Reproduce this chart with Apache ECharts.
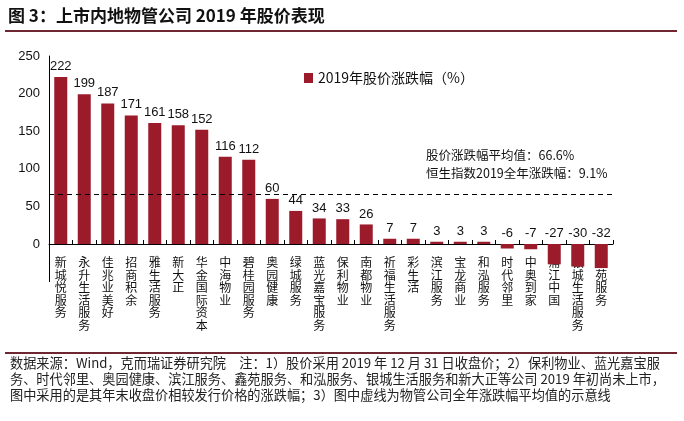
<!DOCTYPE html>
<html><head><meta charset="utf-8">
<script src="https://cdn.jsdelivr.net/npm/echarts@6/dist/echarts.min.js"></script>
<style>html,body{margin:0;padding:0;background:#fff}#c{width:684px;height:421px}</style>
</head><body><div id="c"></div>
<script>
const categories = ['新城悦服务','永升生活服务','佳兆业美好','招商积余','雅生活服务','新大正','华金国际资本','中海物业','碧桂园服务','奥园健康','绿城服务','蓝光嘉宝服务','保利物业','南都物业','祈福生活服务','彩生活','滨江服务','宝龙商业','和泓服务','时代邻里','中奥到家','浦江中国','银城生活服务','鑫苑服务'];
const changes = [222,199,187,171,161,158,152,116,112,60,44,34,33,26,7,7,3,3,3,-6,-7,-27,-30,-32];
const averageChange = 66.6;
const yTicks = [-50,0,50,100,150,200,250];
const seriesName = '2019年股价涨跌幅（%）';

const FONT = '"Noto Sans CJK SC", "Liberation Sans", sans-serif';
const barColor = '#9B1B2B';
const chart = echarts.init(document.getElementById('c'), null, {renderer:'canvas'});
chart.setOption({
  backgroundColor:'#fff',
  animation:false,
  textStyle:{fontFamily:FONT},
  grid:{left:49,right:71,top:56,height:225.6},
  legend:{show:true,left:299,top:66,itemWidth:9,itemHeight:10,itemGap:3,
    data:[{name:seriesName,icon:'rect'}],
    textStyle:{fontSize:14,color:'#111',fontFamily:FONT}},
  xAxis:{type:'category',data:categories,
    axisLine:{onZero:true,lineStyle:{color:'#000',width:1}},
    axisTick:{show:true,inside:true,length:4,lineStyle:{color:'#000'}},
    axisLabel:{interval:0,margin:-25,color:'#111',fontSize:12,lineHeight:12.5,verticalAlign:'top',
      formatter:v=>v.split('').join('\n')}},
  yAxis:{type:'value',min:yTicks[0],max:yTicks[yTicks.length-1],interval:50,
    splitLine:{show:false},
    axisLine:{show:true,lineStyle:{color:'#000'}},
    axisTick:{show:false},
    axisLabel:{color:'#111',fontSize:13,margin:9,fontFamily:'"Liberation Sans", sans-serif',
      formatter:v=>v<0?'':String(v)}},
  series:[
    {name:seriesName,type:'bar',data:changes,barWidth:13,
     itemStyle:{color:barColor},
     label:{show:true,position:'top',distance:4,color:'#111',fontSize:13,fontFamily:'"Liberation Sans", sans-serif',
       formatter:p=>p.value>=0?String(p.value):''},
     markLine:{symbol:'none',silent:true,label:{show:false},
       lineStyle:{type:[5,4],color:'#000',width:1},
       data:[{yAxis:averageChange}]}},
    {name:'neg',type:'bar',barGap:'-100%',barWidth:13,
     data:changes.map(v=>v<0?0:'-'),
     itemStyle:{color:'transparent'},
     label:{show:true,position:'top',distance:4,color:'#111',fontSize:13,fontFamily:'"Liberation Sans", sans-serif',
       formatter:p=>String(changes[p.dataIndex])}}
  ],
  graphic:[
    {type:'text',left:8,top:7,style:{text:'图 3：上市内地物管公司 2019 年股价表现',font:'bold 17px '+FONT,fill:'#111'}},
    {type:'rect',shape:{x:5,y:30,width:672,height:2},style:{fill:'#6E2630'}},
    {type:'text',left:426,top:149,style:{text:'股价涨跌幅平均值：66.6%',font:'12.5px '+FONT,fill:'#111'}},
    {type:'text',left:426,top:167,style:{text:'恒生指数2019全年涨跌幅：9.1%',font:'12.5px '+FONT,fill:'#111'}},
    {type:'rect',shape:{x:5,y:352,width:672,height:2},style:{fill:'#6E2630'}},
    {type:'text',left:10,top:355,style:{text:'数据来源：Wind，克而瑞证券研究院　注：1）股价采用 2019 年 12 月 31 日收盘价；2）保利物业、蓝光嘉宝服\n务、时代邻里、奥园健康、滨江服务、鑫苑服务、和泓服务、银城生活服务和新大正等公司 2019 年初尚未上市，\n图中采用的是其年末收盘价相较发行价格的涨跌幅；3）图中虚线为物管公司全年涨跌幅平均值的示意线',font:'13.2px '+FONT,fill:'#222',lineHeight:16}}
  ]
});
</script></body></html>
